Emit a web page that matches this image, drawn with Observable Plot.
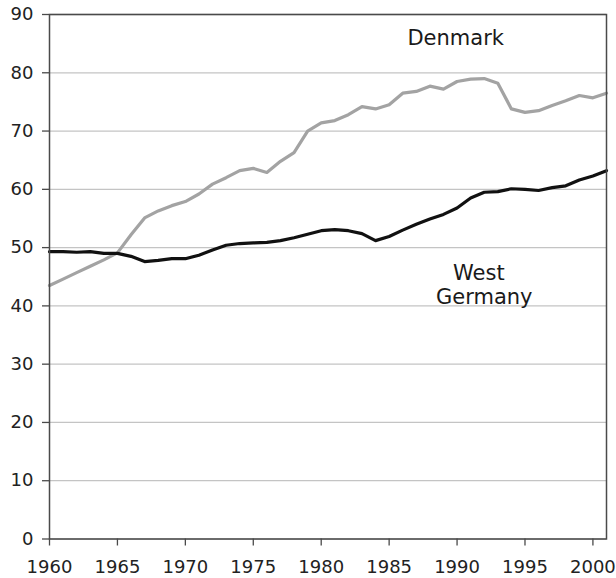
<!DOCTYPE html>
<html>
<head>
<meta charset="utf-8">
<script src="https://cdn.jsdelivr.net/npm/d3@7"></script>
<script src="https://cdn.jsdelivr.net/npm/@observablehq/plot@0.6"></script>
<style>
  html, body { margin: 0; padding: 0; background: #fff; }
</style>
</head>
<body>
<div id="chart"></div>
<script>
const years = d3.range(1960, 2002);
const denmark = [43.5, 44.6, 45.7, 46.8, 47.9, 49.1, 52.2, 55.1, 56.3, 57.2,
  57.9, 59.2, 60.9, 62.0, 63.2, 63.6, 62.9, 64.8, 66.3, 70.0,
  71.4, 71.8, 72.8, 74.2, 73.8, 74.5, 76.5, 76.8, 77.7, 77.2,
  78.5, 78.9, 79.0, 78.2, 73.8, 73.2, 73.5, 74.4, 75.2, 76.1,
  75.7, 76.5];
const westGermany = [49.3, 49.3, 49.2, 49.3, 49.0, 49.0, 48.5, 47.6, 47.8, 48.1,
  48.1, 48.7, 49.6, 50.4, 50.7, 50.8, 50.9, 51.2, 51.7, 52.3,
  52.9, 53.1, 52.9, 52.4, 51.2, 51.9, 53.0, 54.0, 54.9, 55.7,
  56.8, 58.5, 59.5, 59.6, 60.1, 60.0, 59.8, 60.3, 60.6, 61.6,
  62.3, 63.2];
const yTicks = [0, 10, 20, 30, 40, 50, 60, 70, 80, 90];
const xTicks = [1960, 1965, 1970, 1975, 1980, 1985, 1990, 1995, 2000];
const labels = [
  {name: "Denmark", x: 1989.9, y: 86.0},
  {name: "West", x: 1991.6, y: 45.6},
  {name: "Germany", x: 1992.0, y: 41.5}
];

const dk = years.map((yr, i) => ({year: yr, value: denmark[i]}));
const wg = years.map((yr, i) => ({year: yr, value: westGermany[i]}));

const chart = Plot.plot({
  width: 616,
  height: 578,
  marginLeft: 49,
  marginTop: 14,
  marginRight: 10,
  marginBottom: 39.5,
  style: {fontFamily: "DejaVu Sans", fontSize: "18px", color: "#222", background: "#fff"},
  x: {domain: [1960, 2001]},
  y: {domain: [0, 90]},
  marks: [
    Plot.gridY(yTicks, {stroke: "#c4c4c4", strokeOpacity: 1, strokeWidth: 1.3}),
    Plot.line(dk, {x: "year", y: "value", stroke: "#a3a3a3", strokeWidth: 3.2}),
    Plot.line(wg, {x: "year", y: "value", stroke: "#111", strokeWidth: 3.2}),
    Plot.frame({stroke: "#4a4a4a", strokeWidth: 1.5}),
    Plot.axisY(yTicks, {tickSize: 7, tickPadding: 9, label: null, stroke: "#4a4a4a", strokeWidth: 1.3, fill: "#222"}),
    Plot.axisX(xTicks, {tickSize: 7, tickPadding: 14, tickFormat: "d", label: null, stroke: "#4a4a4a", strokeWidth: 1.3, fill: "#222"}),
    Plot.text(labels, {x: "x", y: "y", text: "name", fontSize: 21, textAnchor: "middle", lineAnchor: "middle", fill: "#1a1a1a", fontFamily: "DejaVu Sans"})
  ]
});
document.getElementById("chart").appendChild(chart);
</script>
</body>
</html>
